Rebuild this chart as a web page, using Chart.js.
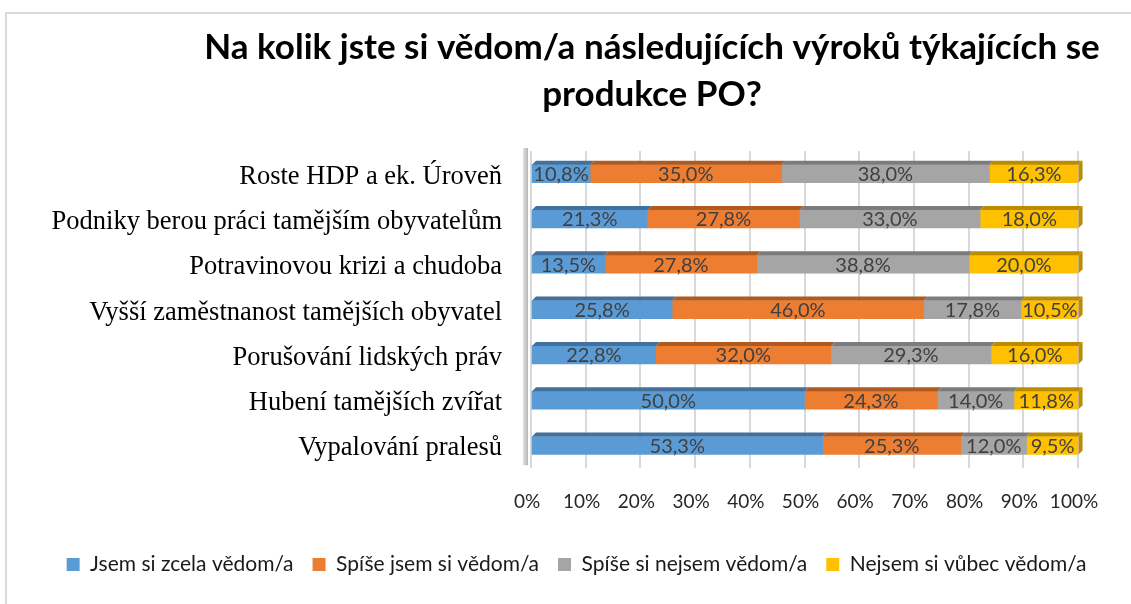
<!DOCTYPE html>
<html>
<head>
<meta charset="utf-8">
<script src="https://cdn.jsdelivr.net/npm/chart.js@4.4.0/dist/chart.umd.min.js"></script>
<style>
  html, body { margin: 0; padding: 0; background: #fff; }
  #wrap { position: relative; width: 1131px; height: 604px; overflow: hidden; }
  #frame { position: absolute; left: 5px; top: 12px; width: 1200px; height: 700px;
           border-left: 2px solid #d9d9d9; border-top: 2px solid #d9d9d9; }
  canvas { position: absolute; left: 0; top: 0; }
</style>
</head>
<body>
<div id="wrap">
  <div id="frame"></div>
  <canvas id="chart" width="1131" height="604"></canvas>
</div>
<script>
const titleLines = ['Na kolik jste si vědom/a následujících výroků týkajících se', 'produkce PO?'];
const categories = [
  'Roste HDP a ek. Úroveň',
  'Podniky berou práci tamějším obyvatelům',
  'Potravinovou krizi a chudoba',
  'Vyšší zaměstnanost tamějších obyvatel',
  'Porušování lidských práv',
  'Hubení tamějších zvířat',
  'Vypalování pralesů'
];
const seriesNames = ['Jsem si zcela vědom/a', 'Spíše jsem si vědom/a', 'Spíše si nejsem vědom/a', 'Nejsem si vůbec vědom/a'];
const fullyAware     = [10.8, 21.3, 13.5, 25.8, 22.8, 50.0, 53.3];
const ratherAware    = [35.0, 27.8, 27.8, 46.0, 32.0, 24.3, 25.3];
const ratherNotAware = [38.0, 33.0, 38.8, 17.8, 29.3, 14.0, 12.0];
const notAware       = [16.3, 18.0, 20.0, 10.5, 16.0, 11.8, 9.5];
const xTicks = [0, 10, 20, 30, 40, 50, 60, 70, 80, 90, 100];

const colors = ['#5b9bd5', '#ed7d31', '#a5a5a5', '#ffc000'];
const topColors = ['#41719c', '#ae5a21', '#7c7c7c', '#bc8c00'];

// title and legend sit a bit right of the canvas centre in the original
const shiftBlocks = {
  id: 'shiftBlocks',
  afterLayout(chart) {
    if (chart.titleBlock) {
      chart.titleBlock.left = 173;
      chart.titleBlock.right = 1131;
    }
    if (chart.legend) {
      chart.legend.left = 22;
      chart.legend.right = 1131;
    }
  }
};

// fake 3D look: top faces of bars, end face of the last series, left wall
const bars3d = {
  id: 'bars3d',
  beforeDatasetsDraw(chart) {
    const {ctx, chartArea} = chart;
    ctx.save();
    const g = ctx.createLinearGradient(chartArea.left - 10, 0, chartArea.left, 0);
    g.addColorStop(0, '#f2f2f2');
    g.addColorStop(0.6, '#bfbfbf');
    g.addColorStop(1, '#8c8c8c');
    ctx.fillStyle = g;
    ctx.fillRect(chartArea.left - 8, chartArea.top - 3, 5, chartArea.bottom - chartArea.top);
    ctx.restore();
  },
  afterDatasetsDraw(chart) {
    const {ctx} = chart;
    const d = 4;
    ctx.save();
    chart.data.datasets.forEach((ds, i) => {
      const meta = chart.getDatasetMeta(i);
      meta.data.forEach(bar => {
        const {x, y, base, height} = bar.getProps(['x', 'y', 'base', 'height'], true);
        const top = y - height / 2, bottom = y + height / 2;
        ctx.fillStyle = topColors[i];
        ctx.beginPath();
        ctx.moveTo(base, top);
        ctx.lineTo(base + d, top - d);
        ctx.lineTo(x + d, top - d);
        ctx.lineTo(x, top);
        ctx.closePath();
        ctx.fill();
        if (i === chart.data.datasets.length - 1) {
          ctx.beginPath();
          ctx.moveTo(x, top);
          ctx.lineTo(x + d, top - d);
          ctx.lineTo(x + d, bottom - d);
          ctx.lineTo(x, bottom);
          ctx.closePath();
          ctx.fill();
        }
      });
    });
    ctx.restore();
  }
};

// value labels in the middle of each segment
const valueLabels = {
  id: 'valueLabels',
  afterDraw(chart) {
    const {ctx} = chart;
    ctx.save();
    ctx.font = '20px Lato';
    ctx.fillStyle = '#404040';
    ctx.textAlign = 'center';
    ctx.textBaseline = 'middle';
    chart.data.datasets.forEach((ds, i) => {
      chart.getDatasetMeta(i).data.forEach((bar, j) => {
        const {x, y, base} = bar.getProps(['x', 'y', 'base'], true);
        const txt = ds.data[j].toFixed(1).replace('.', ',') + '%';
        ctx.fillText(txt, (x + base) / 2, y + 1);
      });
    });
    ctx.restore();
  }
};

const series = [fullyAware, ratherAware, ratherNotAware, notAware];

new Chart(document.getElementById('chart'), {
  type: 'bar',
  data: {
    labels: categories,
    datasets: series.map((s, i) => ({
      label: seriesNames[i],
      data: s,
      backgroundColor: colors[i],
      barThickness: 18,
      borderWidth: 0
    }))
  },
  options: {
    indexAxis: 'y',
    responsive: false,
    animation: false,
    layout: { padding: { left: 0, right: 53, top: 0, bottom: 19 } },
    scales: {
      x: {
        stacked: true,
        min: 0,
        max: 100,
        afterBuildTicks: (axis) => { axis.ticks = xTicks.map(v => ({ value: v })); },
        ticks: {
          callback: v => v + '%',
          font: { family: 'Lato', size: 19 },
          color: '#262626',
          padding: 22,
          labelOffset: -4
        },
        grid: { color: '#d9d9d9', lineWidth: 2, drawTicks: false },
        border: { display: false }
      },
      y: {
        stacked: true,
        afterFit: (axis) => { axis.width = 531; },
        ticks: {
          font: { family: 'Liberation Serif', size: 26.5 },
          color: '#000',
          padding: 21,
          labelOffset: 3
        },
        grid: { display: false },
        border: { display: false }
      }
    },
    plugins: {
      title: {
        display: true,
        text: titleLines,
        font: { family: 'Lato', size: 35, weight: 'bold', lineHeight: 1.343 },
        color: '#000',
        padding: { top: 24, bottom: 33 }
      },
      legend: {
        position: 'bottom',
        labels: {
          boxWidth: 13,
          boxHeight: 13,
          padding: 19,
          font: { family: 'Lato', size: 21 },
          color: '#1a1a1a'
        }
      },
      tooltip: { enabled: false }
    }
  },
  plugins: [shiftBlocks, bars3d, valueLabels]
});
</script>
</body>
</html>
